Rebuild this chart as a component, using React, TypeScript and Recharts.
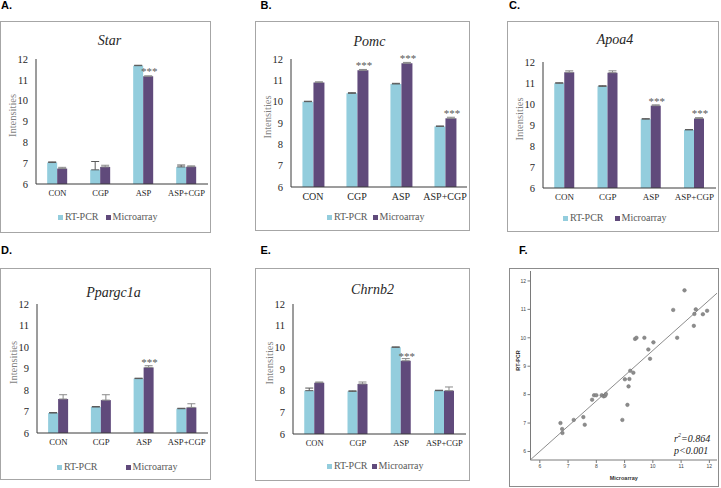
import {
  BarChart,
  Bar,
  XAxis,
  YAxis,
  Legend,
  ErrorBar,
  LabelList,
  Label,
  ScatterChart,
  Scatter,
  ReferenceLine,
} from 'recharts';

const GROUPS = ['CON', 'CGP', 'ASP', 'ASP+CGP'];
const SERIES_ORDER = ['RT-PCR', 'Microarray'];

// per-gene values (RT-PCR vs Microarray)
const STAR_RT = [7.03, 6.68, 11.68, 6.82];
const STAR_RT_ERR = [0.03, 0.4, 0.02, 0.09];
const STAR_MA = [6.74, 6.82, 11.17, 6.83];
const STAR_MA_ERR = [0.06, 0.08, 0.02, 0.04];
const STAR_SIG = [false, false, true, false];

const POMC_RT = [10.0, 10.39, 10.83, 8.84];
const POMC_RT_ERR = [0.02, 0.03, 0.03, 0.02];
const POMC_MA = [10.9, 11.47, 11.8, 9.22];
const POMC_MA_ERR = [0.03, 0.04, 0.04, 0.05];
const POMC_SIG = [false, true, true, true];

const APOA4_RT = [10.99, 10.84, 9.28, 8.77];
const APOA4_RT_ERR = [0.02, 0.03, 0.02, 0.01];
const APOA4_MA = [11.51, 11.49, 9.92, 9.31];
const APOA4_MA_ERR = [0.07, 0.09, 0.04, 0.04];
const APOA4_SIG = [false, false, true, true];

const PPARGC1A_RT = [6.93, 7.21, 8.53, 7.13];
const PPARGC1A_RT_ERR = [0.02, 0.02, 0.02, 0.02];
const PPARGC1A_MA = [7.58, 7.53, 9.05, 7.19];
const PPARGC1A_MA_ERR = [0.2, 0.25, 0.08, 0.17];
const PPARGC1A_SIG = [false, false, true, false];

const CHRNB2_RT = [8.0, 7.97, 10.0, 8.0];
const CHRNB2_RT_ERR = [0.12, 0.02, 0.02, 0.02];
const CHRNB2_MA = [8.37, 8.31, 9.38, 8.0];
const CHRNB2_MA_ERR = [0.03, 0.09, 0.1, 0.17];
const CHRNB2_SIG = [false, false, true, false];

const Y_TICKS = [6, 7, 8, 9, 10, 11, 12];

// panel F: microarray (x) vs RT-PCR (y)
const CORR_X = [
  6.73, 6.79, 6.8, 7.2, 7.54, 7.59, 7.85, 7.92, 8.0, 8.19, 8.26, 8.31, 8.34, 8.92, 9.01, 9.1, 9.14,
  9.17, 9.2, 9.31, 9.37, 9.42, 9.7, 9.84, 9.9, 10.02, 10.72, 10.86, 11.12, 11.45, 11.47, 11.52,
  11.77, 11.92,
];
const CORR_Y = [
  7.0, 6.79, 6.65, 7.11, 7.21, 6.94, 7.82, 7.98, 7.98, 7.98, 7.94, 7.96, 8.02, 7.11, 8.54, 7.64, 8.29,
  8.55, 8.84, 8.77, 9.96, 10.0, 10.0, 9.59, 9.26, 9.84, 10.98, 10.0, 11.67, 10.42, 10.84, 11.0,
  10.83, 10.95,
];
const FIT_LINE = [
  { x: 5.67, y: 5.71 },
  { x: 12.27, y: 11.57 },
];
const CORR_TICKS = [6, 7, 8, 9, 10, 11, 12];

const BLUE = '#93cddd';
const PURPLE = '#604a7b';
const SERIF = '"Liberation Serif", "Times New Roman", serif';
const SANS = '"Liberation Sans", Arial, sans-serif';

const makeRows = (rt: number[], rtErr: number[], ma: number[], maErr: number[], sig: boolean[]) =>
  GROUPS.map((g, i) => ({
    group: g,
    rt: rt[i],
    ma: ma[i],
    rtErr: [0, rtErr[i]],
    maErr: [0, maErr[i]],
    sig: sig[i] ? '***' : '',
  }));

const StarLabel = (props: any) => {
  const { x, y, width, value } = props;
  if (!value) return null;
  return (
    <text
      x={Number(x) + Number(width) / 2 + 1}
      y={Number(y) - 1}
      textAnchor="middle"
      fontSize={11}
      fill="#595959"
      fontFamily={SERIF}
    >
      {value}
    </text>
  );
};

const legendContent = (gap: number) => (props: any) => {
  const items = [...(props.payload || [])].sort(
    (a: any, b: any) => SERIES_ORDER.indexOf(a.value) - SERIES_ORDER.indexOf(b.value),
  );
  return (
    <div
      style={{
        display: 'flex',
        alignItems: 'center',
        fontSize: 10,
        lineHeight: '12px',
        color: '#595959',
        fontFamily: SERIF,
        whiteSpace: 'nowrap',
      }}
    >
      {items.map((e: any, i: number) => (
        <span key={e.value} style={{ display: 'flex', alignItems: 'center', marginLeft: i ? gap : 0 }}>
          <span style={{ width: 5, height: 5, background: e.color, marginRight: 2 }} />
          {e.value}
        </span>
      ))}
    </div>
  );
};

interface Box {
  l: number;
  t: number;
  w: number;
  h: number;
}

interface BarPanelProps {
  letter: string;
  letterX: number;
  letterY: number;
  gene: string;
  rows: any[];
  box: Box;
  plot: { l: number; t: number; b: number; r: number };
  titleX: number;
  titleY: number;
  legendX: number;
  legendY: number;
  legendGap: number;
  xFont: number;
}

const YW = 30;
const XH = 20;

function BarPanel(p: BarPanelProps) {
  const { box, plot } = p;
  const margin = {
    top: plot.t - box.t,
    right: box.l + box.w - plot.r,
    left: plot.l - box.l - YW,
    bottom: box.t + box.h - plot.b - XH,
  };
  return (
    <>
      <div
        style={{
          position: 'absolute',
          left: p.letterX,
          top: p.letterY,
          fontFamily: SANS,
          fontWeight: 'bold',
          fontSize: 11,
          lineHeight: '12px',
        }}
      >
        {p.letter}
      </div>
      <div
        style={{
          position: 'absolute',
          left: box.l,
          top: box.t,
          width: box.w,
          height: box.h,
          border: '1px solid #a6a6a6',
          boxSizing: 'border-box',
        }}
      />
      <div
        style={{
          position: 'absolute',
          left: p.titleX - 60,
          top: p.titleY - 8,
          width: 120,
          textAlign: 'center',
          fontFamily: SERIF,
          fontStyle: 'italic',
          fontSize: 14,
          lineHeight: '16px',
          color: '#262626',
        }}
      >
        {p.gene}
      </div>
      <div style={{ position: 'absolute', left: box.l, top: box.t, fontFamily: SERIF }}>
        <BarChart
          width={box.w}
          height={box.h}
          data={p.rows}
          margin={margin}
          barCategoryGap="26%"
          barGap={0}
        >
          <XAxis
            dataKey="group"
            height={XH}
            tickLine={false}
            tickSize={0}
            tickMargin={6}
            axisLine={{ stroke: '#3a3a3a' }}
            tick={{ fontSize: p.xFont, fill: '#262626' }}
            interval={0}
          />
          <YAxis
            width={YW}
            domain={[6, 12]}
            ticks={Y_TICKS}
            allowDataOverflow
            tickLine={false}
            tickSize={0}
            tickMargin={8}
            axisLine={{ stroke: '#3a3a3a' }}
            tick={{ fontSize: 10.5, fill: '#262626' }}
          >
            <Label
              value="Intensities"
              angle={-90}
              position="center"
              dx={-9}
              dy={-6}
              fill="#7f7f7f"
              fontSize={10.5}
            />
          </YAxis>
          <Legend
            layout="horizontal"
            verticalAlign="middle"
            align="center"
            wrapperStyle={{
              left: p.legendX - box.l,
              top: p.legendY - box.t - 6,
              width: 'auto',
            }}
            content={legendContent(p.legendGap)}
          />
          <Bar dataKey="rt" name="RT-PCR" fill={BLUE} isAnimationActive={false}>
            <ErrorBar dataKey="rtErr" width={4} stroke="#595959" strokeWidth={1} direction="y" />
          </Bar>
          <Bar dataKey="ma" name="Microarray" fill={PURPLE} isAnimationActive={false}>
            <ErrorBar dataKey="maErr" width={4} stroke="#8a8a8a" strokeWidth={1} direction="y" />
            <LabelList dataKey="sig" content={StarLabel} />
          </Bar>
        </BarChart>
      </div>
    </>
  );
}

const corrPoints = CORR_X.map((x, i) => ({ x, y: CORR_Y[i] }));

const Dot = (props: any) => (
  <circle cx={props.cx} cy={props.cy} r={1.8} fill="#8c8c8c" stroke="#707070" strokeWidth={0.5} />
);

function CorrPanel() {
  const box = { l: 509, t: 268, w: 210, h: 219 };
  return (
    <>
      <div
        style={{
          position: 'absolute',
          left: 519,
          top: 243.5,
          fontFamily: SANS,
          fontWeight: 'bold',
          fontSize: 11,
          lineHeight: '12px',
        }}
      >
        F.
      </div>
      <div
        style={{
          position: 'absolute',
          left: box.l,
          top: box.t,
          width: box.w,
          height: box.h,
          border: '1px solid #8c8c8c',
          boxSizing: 'border-box',
        }}
      />
      <div style={{ position: 'absolute', left: box.l, top: box.t, fontFamily: SANS }}>
        <ScatterChart
          width={box.w}
          height={box.h}
          margin={{ top: 3, right: 2, left: 1.5, bottom: 7 }}
        >
          <XAxis
            type="number"
            dataKey="x"
            domain={[5.67, 12.27]}
            ticks={CORR_TICKS}
            allowDataOverflow
            height={20}
            tickSize={3}
            tickMargin={1}
            axisLine={{ stroke: '#7a7a7a' }}
            tickLine={{ stroke: '#7a7a7a' }}
            tick={{ fontSize: 5, fill: '#444' }}
          >
            <Label
              value="Microarray"
              position="center"
              dy={8}
              fontSize={5.5}
              fontWeight="bold"
              fill="#333"
            />
          </XAxis>
          <YAxis
            type="number"
            dataKey="y"
            domain={[5.7, 12.35]}
            ticks={CORR_TICKS}
            allowDataOverflow
            width={20}
            tickSize={3}
            tickMargin={1.5}
            axisLine={{ stroke: '#7a7a7a' }}
            tickLine={{ stroke: '#7a7a7a' }}
            tick={{ fontSize: 5, fill: '#444' }}
          >
            <Label
              value="RT-PCR"
              angle={-90}
              position="center"
              dx={-2.5}
              dy={-5}
              fontSize={5.5}
              fontWeight="bold"
              fill="#333"
            />
          </YAxis>
          <ReferenceLine
            segment={FIT_LINE}
            stroke="#6e6e6e"
            strokeWidth={0.8}
            ifOverflow="visible"
          />
          <Scatter data={corrPoints} shape={Dot} isAnimationActive={false} />
        </ScatterChart>
      </div>
      <div
        style={{
          position: 'absolute',
          left: 674,
          top: 433,
          fontFamily: SERIF,
          fontStyle: 'italic',
          fontSize: 10,
          lineHeight: '12px',
          color: '#222',
          whiteSpace: 'nowrap',
        }}
      >
        <div>
          r<sup style={{ fontSize: 6, verticalAlign: 5, lineHeight: 0 }}>2</sup>=0.864
        </div>
        <div>p&lt;0.001</div>
      </div>
    </>
  );
}

export default function App() {
  return (
    <div
      style={{
        position: 'absolute',
        left: 0,
        top: 0,
        width: 721,
        height: 488,
        background: '#fff',
        overflow: 'hidden',
      }}
    >
      <BarPanel
        letter="A."
        letterX={1}
        letterY={-1}
        gene="Star"
        rows={makeRows(STAR_RT, STAR_RT_ERR, STAR_MA, STAR_MA_ERR, STAR_SIG)}
        box={{ l: 0, t: 21, w: 211, h: 212 }}
        plot={{ l: 36, t: 59, b: 184, r: 208 }}
        titleX={109.5}
        titleY={41}
        legendX={58}
        legendY={217}
        legendGap={7}
        xFont={8.5}
      />
      <BarPanel
        letter="B."
        letterX={260.5}
        letterY={-1}
        gene="Pomc"
        rows={makeRows(POMC_RT, POMC_RT_ERR, POMC_MA, POMC_MA_ERR, POMC_SIG)}
        box={{ l: 255, t: 21, w: 215, h: 210 }}
        plot={{ l: 291, t: 59, b: 187, r: 467 }}
        titleX={369.5}
        titleY={42}
        legendX={327}
        legendY={217}
        legendGap={5}
        xFont={10}
      />
      <BarPanel
        letter="C."
        letterX={509}
        letterY={-1}
        gene="Apoa4"
        rows={makeRows(APOA4_RT, APOA4_RT_ERR, APOA4_MA, APOA4_MA_ERR, APOA4_SIG)}
        box={{ l: 507, t: 21, w: 212, h: 211 }}
        plot={{ l: 543, t: 62, b: 188, r: 716 }}
        titleX={615}
        titleY={40}
        legendX={563}
        legendY={218}
        legendGap={11}
        xFont={9}
      />
      <BarPanel
        letter="D."
        letterX={1}
        letterY={243.5}
        gene="Ppargc1a"
        rows={makeRows(PPARGC1A_RT, PPARGC1A_RT_ERR, PPARGC1A_MA, PPARGC1A_MA_ERR, PPARGC1A_SIG)}
        box={{ l: 0, t: 268, w: 211, h: 212 }}
        plot={{ l: 37, t: 304, b: 433, r: 208 }}
        titleX={113.5}
        titleY={293}
        legendX={57}
        legendY={467}
        legendGap={28}
        xFont={8.7}
      />
      <BarPanel
        letter="E."
        letterX={260.5}
        letterY={243.5}
        gene="Chrnb2"
        rows={makeRows(CHRNB2_RT, CHRNB2_RT_ERR, CHRNB2_MA, CHRNB2_MA_ERR, CHRNB2_SIG)}
        box={{ l: 255, t: 268, w: 215, h: 213 }}
        plot={{ l: 293, t: 304, b: 434, r: 466 }}
        titleX={372.5}
        titleY={290}
        legendX={327}
        legendY={466}
        legendGap={4}
        xFont={8.5}
      />
      <CorrPanel />
    </div>
  );
}
